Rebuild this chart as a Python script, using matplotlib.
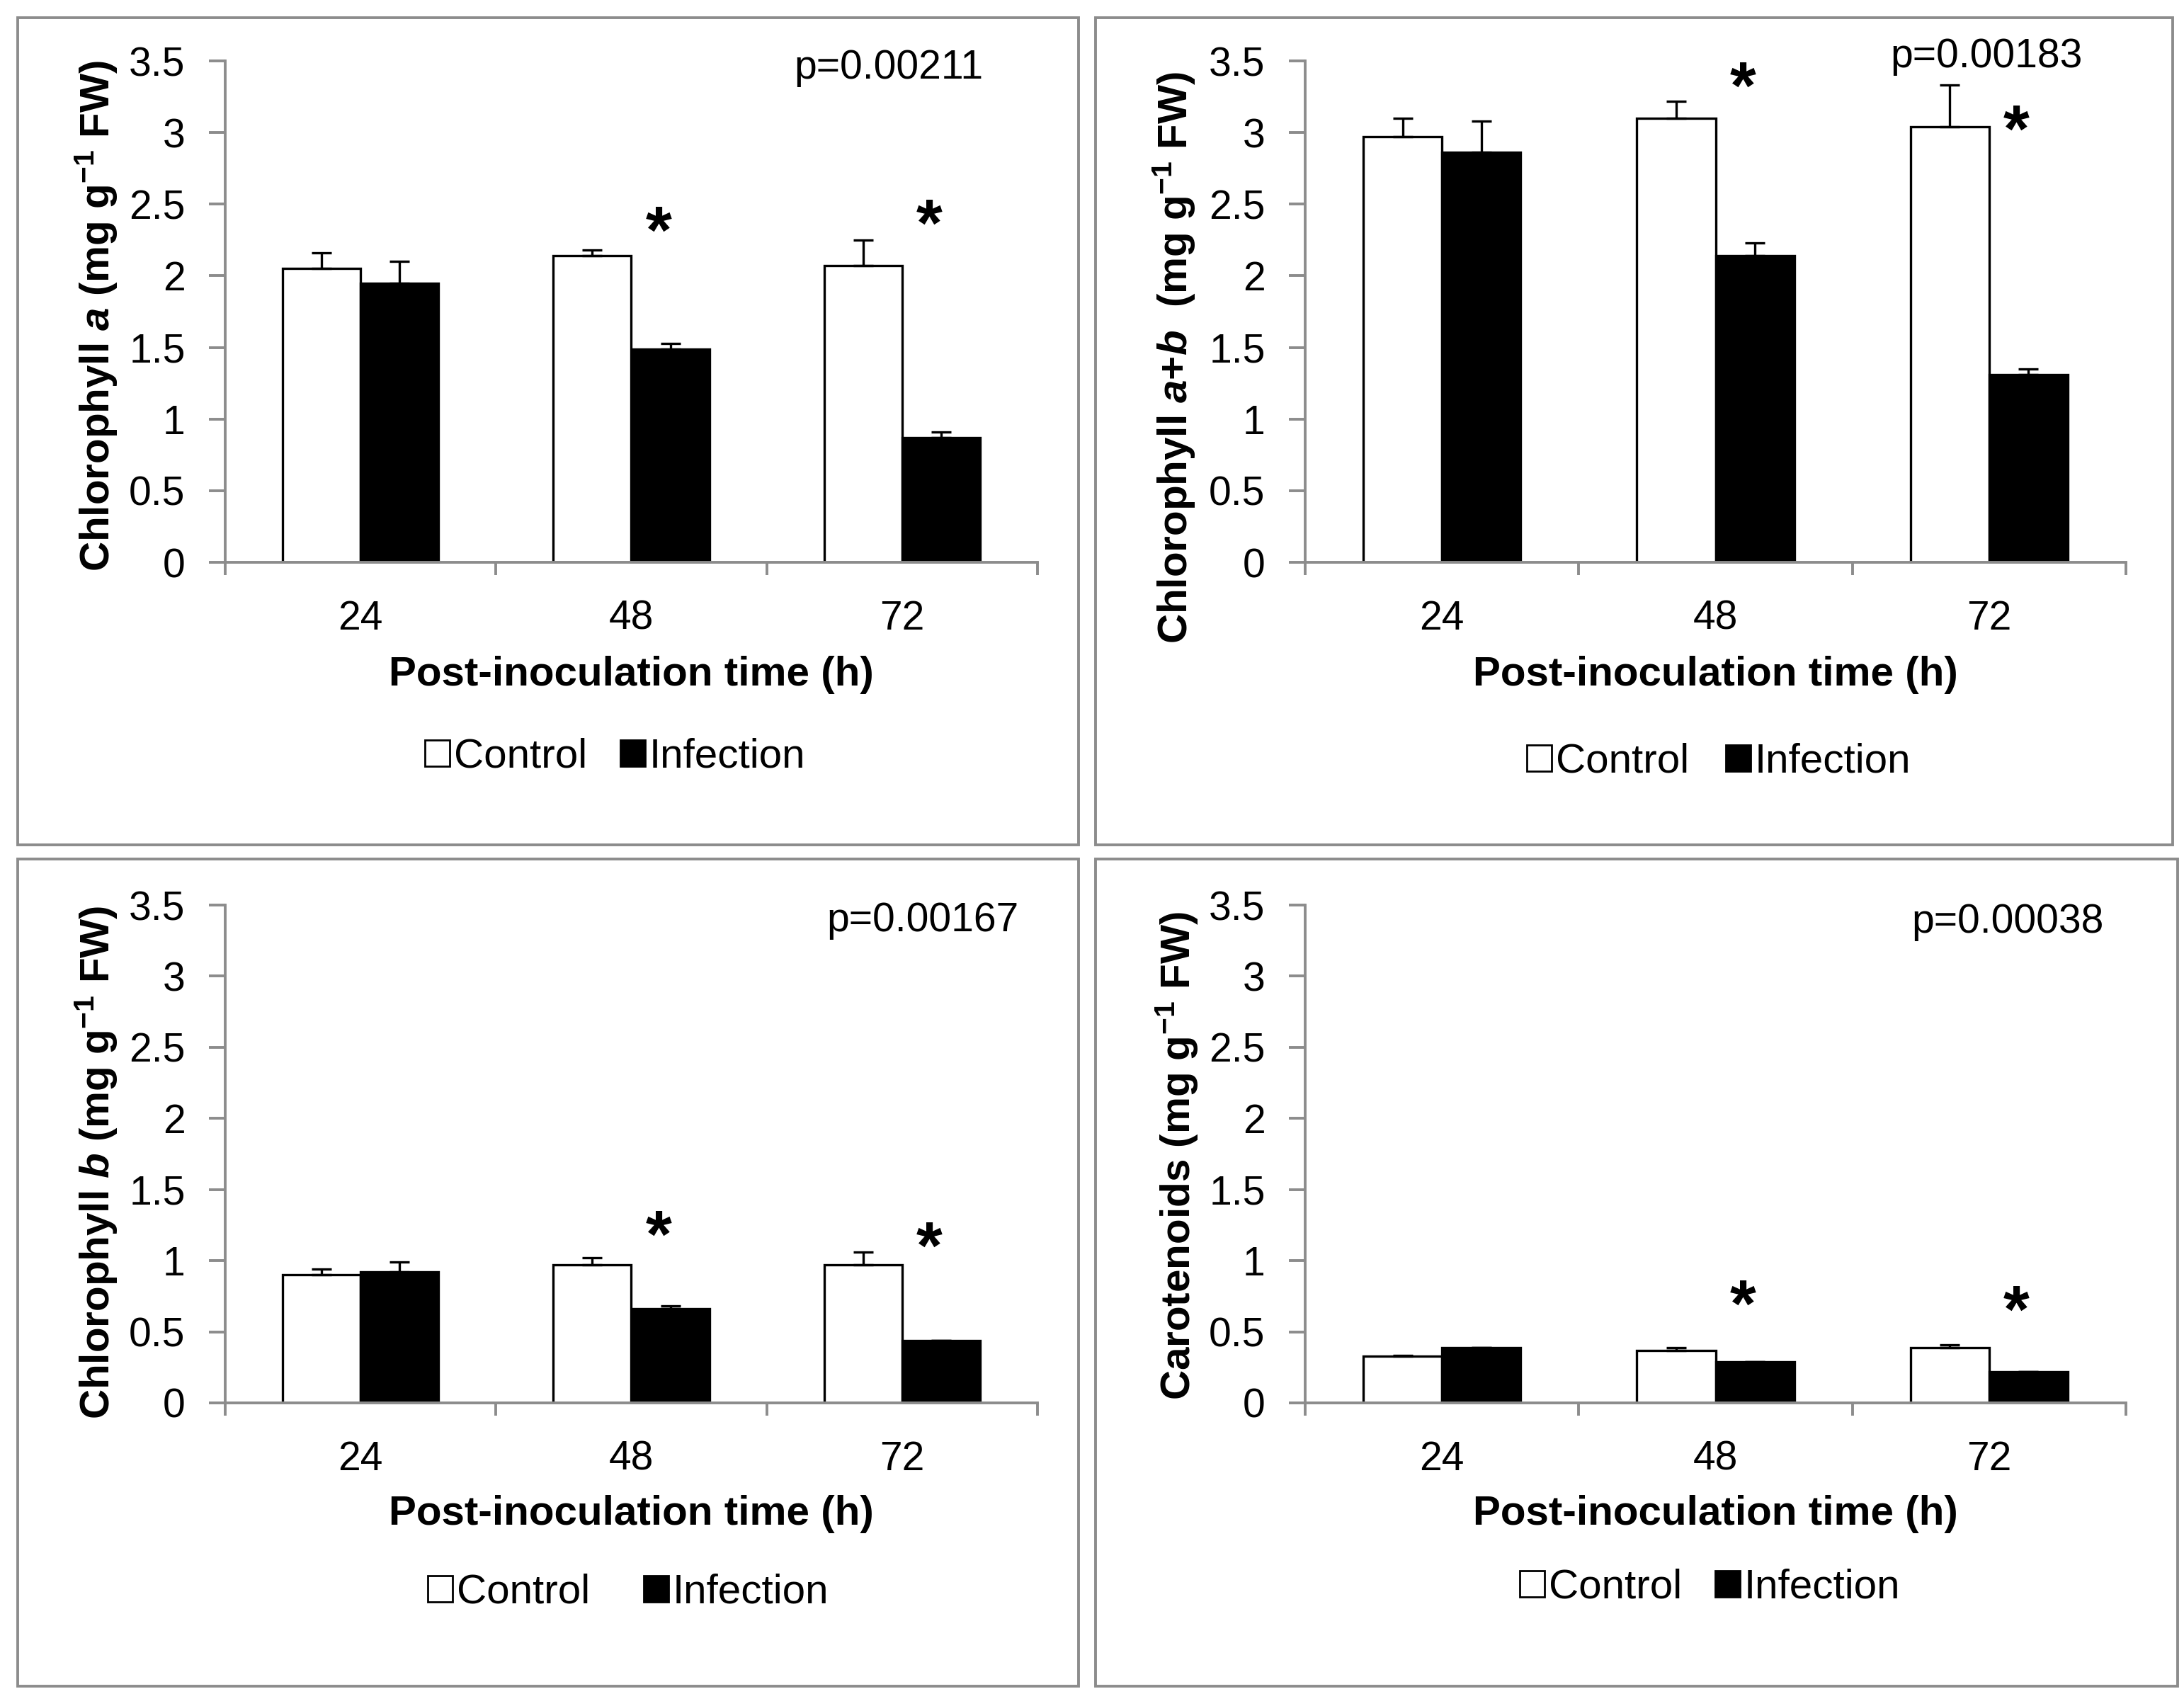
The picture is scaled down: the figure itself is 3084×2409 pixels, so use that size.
import numpy as np
import matplotlib
matplotlib.use("Agg")
import matplotlib.pyplot as plt
from matplotlib.patches import Patch, Rectangle

plt.rcParams['font.family'] = ['Liberation Sans', 'DejaVu Sans']
plt.rcParams['mathtext.fontset'] = 'custom'
plt.rcParams['mathtext.rm'] = 'Liberation Sans:bold'
plt.rcParams['mathtext.it'] = 'Liberation Sans:bold:italic'
plt.rcParams['mathtext.bf'] = 'Liberation Sans:bold'

# ---- data ----
times = ['24', '48', '72']

chl_a_control = [2.05, 2.14, 2.07]
chl_a_control_err = [0.11, 0.04, 0.18]
chl_a_infection = [1.95, 1.49, 0.87]
chl_a_infection_err = [0.15, 0.04, 0.04]

chl_ab_control = [2.97, 3.10, 3.04]
chl_ab_control_err = [0.13, 0.12, 0.29]
chl_ab_infection = [2.86, 2.14, 1.31]
chl_ab_infection_err = [0.22, 0.09, 0.04]

chl_b_control = [0.90, 0.97, 0.97]
chl_b_control_err = [0.04, 0.05, 0.09]
chl_b_infection = [0.92, 0.66, 0.44]
chl_b_infection_err = [0.07, 0.02, 0.0]

car_control = [0.33, 0.37, 0.39]
car_control_err = [0.005, 0.02, 0.02]
car_infection = [0.39, 0.29, 0.22]
car_infection_err = [0.0, 0.0, 0.0]

p_values = ['p=0.00211', 'p=0.00183', 'p=0.00167', 'p=0.00038']
# significant time points (index) and height of the star
stars_a = [(1, 2.36), (2, 2.41)]
stars_ab = [(1, 3.37), (2, 3.07)]
stars_b = [(1, 1.23), (2, 1.15)]
stars_car = [(1, 0.74), (2, 0.70)]

ylabels = [r'Chlorophyll $a$ (mg g$^{-1}$ FW)',
           r'Chlorophyll $a$+$b$  (mg g$^{-1}$ FW)',
           r'Chlorophyll $b$ (mg g$^{-1}$ FW)',
           r'Carotenoids (mg g$^{-1}$ FW)']

panels = [
    (chl_a_control, chl_a_control_err, chl_a_infection, chl_a_infection_err, stars_a),
    (chl_ab_control, chl_ab_control_err, chl_ab_infection, chl_ab_infection_err, stars_ab),
    (chl_b_control, chl_b_control_err, chl_b_infection, chl_b_infection_err, stars_b),
    (car_control, car_control_err, car_infection, car_infection_err, stars_car),
]

# ---- layout (pixels of the 3084x2409 canvas) ----
W, H = 3084, 2409
axes_rects = [(318, 794, 1465, 86), (1843, 794, 3002, 86),
              (318, 1981, 1465, 1278), (1843, 1981, 3002, 1278)]
frames = [(25, 25, 1523, 1193), (1547, 25, 3068, 1193),
          (25, 1213, 1523, 2381), (1547, 1213, 3075, 2381)]
ylabel_pos = [(136, 446), (1658, 505), (136, 1641), (1662, 1632)]
ptext_pos = [(2.30, 3.45), (2.34, 3.53), (2.43, 3.39), (2.42, 3.38)]
legend_pos = [(0.48, -0.388), (0.504, -0.398), (0.496, -0.381), (0.493, -0.371)]
legend_gap = [0.8, 0.9, 1.3, 0.8]

GRAY = '#8c8c8c'
bar_w = 0.288

fig = plt.figure(figsize=(W / 200, H / 200), dpi=200)

for k, (ctrl, ctrl_err, inf, inf_err, stars) in enumerate(panels):
    x0, y0, x1, y1 = axes_rects[k]
    ax = fig.add_axes([x0 / W, 1 - y0 / H, (x1 - x0) / W, (y0 - y1) / H])
    x = np.arange(len(times))

    ax.bar(x - bar_w / 2, ctrl, bar_w, color='white', edgecolor='black', linewidth=1.2, zorder=2)
    ax.bar(x + bar_w / 2, inf, bar_w, color='black', edgecolor='black', linewidth=1.2, zorder=2)
    ax.errorbar(x - bar_w / 2, ctrl, yerr=[np.zeros(3), ctrl_err], fmt='none',
                ecolor='black', elinewidth=1.2, capsize=5, capthick=1.2, zorder=3)
    ax.errorbar(x + bar_w / 2, inf, yerr=[np.zeros(3), inf_err], fmt='none',
                ecolor='black', elinewidth=1.2, capsize=5, capthick=1.2, zorder=3)

    for i, ys in stars:
        ax.annotate('*', (i + 0.1, ys), xytext=(0, -0.43 * 34), textcoords='offset points',
                    ha='center', va='baseline', fontsize=34, fontweight='bold')

    px, py = ptext_pos[k]
    ax.text(px, py, p_values[k], ha='right', va='center', fontsize=20.5)

    ax.set_xlim(-0.5, 2.5)
    ax.set_ylim(0, 3.5)
    ax.set_yticks(np.arange(0, 3.51, 0.5))
    ax.set_yticklabels(['0', '0.5', '1', '1.5', '2', '2.5', '3', '3.5'])
    ax.set_xticks(x)
    ax.set_xticklabels(times)
    ax.set_xticks([-0.5, 0.5, 1.5, 2.5], minor=True)

    for s in ['top', 'right']:
        ax.spines[s].set_visible(False)
    for s in ['left', 'bottom']:
        ax.spines[s].set_color(GRAY)
        ax.spines[s].set_linewidth(1.4)
    ax.tick_params(axis='y', direction='out', length=8.3, width=1.4, color=GRAY,
                   pad=12, labelsize=20.5)
    ax.tick_params(axis='x', which='major', length=0, pad=19, labelsize=20.5)
    ax.tick_params(axis='x', which='minor', direction='out', length=6.5, width=1.4, color=GRAY)

    ax.text(0.5, -0.224, 'Post-inoculation time (h)', transform=ax.transAxes,
            ha='center', va='center', fontsize=21, fontweight='bold')

    lx, ly = ylabel_pos[k]
    fig.text(lx / W, 1 - ly / H, ylabels[k], rotation=90, ha='center', va='center',
             fontsize=21, fontweight='bold')

    handles = [Patch(facecolor='white', edgecolor='black', linewidth=1.0, label='Control'),
               Patch(facecolor='black', edgecolor='black', linewidth=1.0, label='Infection')]
    ax.legend(handles=handles, loc='center', bbox_to_anchor=legend_pos[k], ncol=2,
              frameon=False, fontsize=21, handlelength=0.6, handleheight=0.6,
              handletextpad=0.1, columnspacing=legend_gap[k], borderpad=0)

    fx0, fy0, fx1, fy1 = frames[k]
    fig.patches.append(Rectangle((fx0 / W, 1 - fy1 / H), (fx1 - fx0) / W, (fy1 - fy0) / H,
                                 transform=fig.transFigure, fill=False,
                                 edgecolor=GRAY, linewidth=1.4))

fig.savefig('out.png', dpi=200, facecolor='white')
